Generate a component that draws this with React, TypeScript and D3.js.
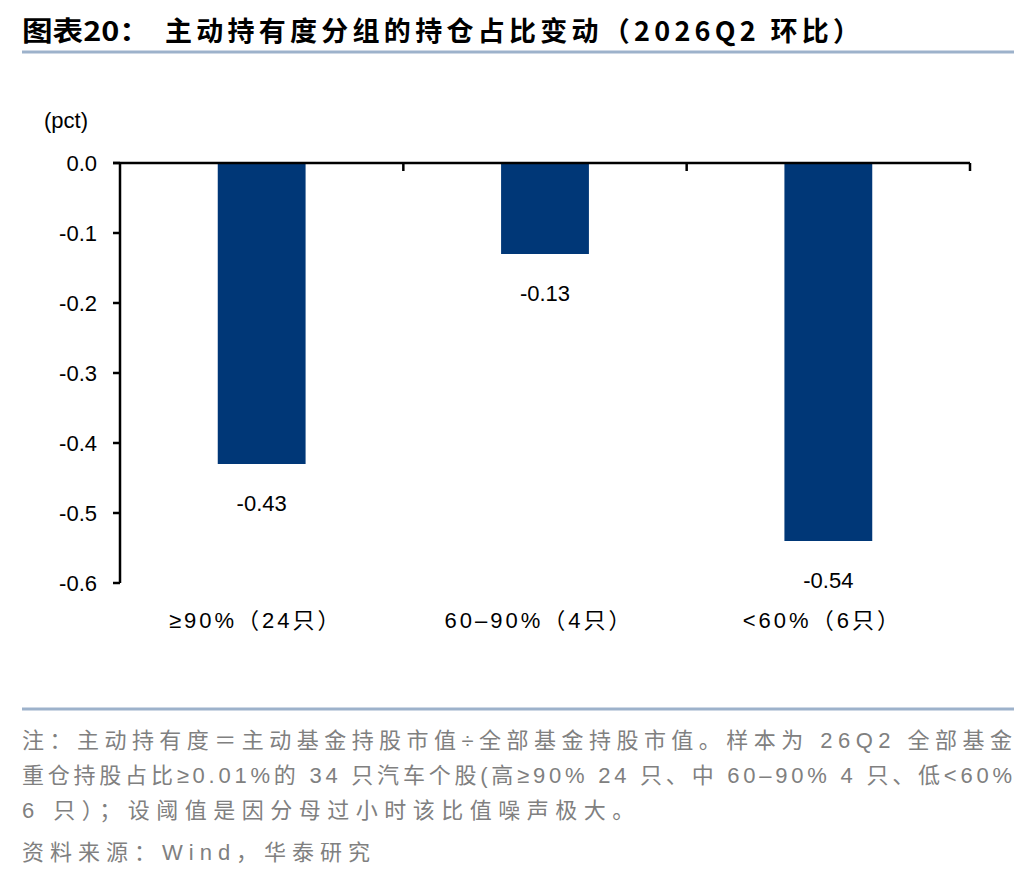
import { useEffect, useRef } from "react";
import * as d3 from "d3";

const categories = ["≥90%（24只）", "60–90%（4只）", "<60%（6只）"];
const values = [-0.43, -0.13, -0.54];
const yTicks = [0, -0.1, -0.2, -0.3, -0.4, -0.5, -0.6];

const titleHead = "图表20：";
const titleBody = "主动持有度分组的持仓占比变动（2026Q2 环比）";
const notes = [
  "注：主动持有度＝主动基金持股市值÷全部基金持股市值。样本为 26Q2 全部基金",
  "重仓持股占比≥0.01%的 34 只汽车个股(高≥90% 24 只、中 60–90% 4 只、低<60%",
  "6 只）；设阈值是因分母过小时该比值噪声极大。",
];
const source = "资料来源：Wind，华泰研究";

const App = () => {
  const ref = useRef<SVGSVGElement>(null);

  useEffect(() => {
    document.body.style.margin = "0";
    const svg = d3.select(ref.current);
    svg.selectAll("*").remove();

    const W = 1036,
      H = 880;
    const left = 120,
      right = 970,
      top = 163,
      bottom = 583;
    const sans = "'Liberation Sans', Arial, 'Noto Sans CJK SC', sans-serif";
    const cjk = "'Noto Sans CJK SC', sans-serif";

    svg.attr("width", W).attr("height", H);
    svg.append("rect").attr("width", W).attr("height", H).attr("fill", "#fff");

    // title
    svg
      .append("text")
      .attr("x", 22)
      .attr("y", 41)
      .attr("font-family", cjk)
      .attr("font-weight", "bold")
      .attr("font-size", 27)
      .attr("fill", "#000")
      .attr("textLength", 128)
      .attr("lengthAdjust", "spacingAndGlyphs")
      .text(titleHead);
    svg
      .append("text")
      .attr("x", 165)
      .attr("y", 41)
      .attr("font-family", cjk)
      .attr("font-weight", "bold")
      .attr("font-size", 27)
      .attr("fill", "#000")
      .attr("textLength", 695)
      .attr("lengthAdjust", "spacing")
      .text(titleBody);
    svg
      .append("line")
      .attr("x1", 22)
      .attr("x2", 1014)
      .attr("y1", 52)
      .attr("y2", 52)
      .attr("stroke", "#9db2cb")
      .attr("stroke-width", 3);

    const x = d3
      .scaleBand()
      .domain(categories)
      .range([left, right])
      .paddingInner(0.69)
      .paddingOuter(0.345);
    const y = d3.scaleLinear().domain([0, -0.6]).range([top, bottom]);
    const band = d3.scaleBand().domain(categories).range([left, right]);

    // bars
    svg
      .append("g")
      .selectAll("rect")
      .data(values)
      .join("rect")
      .attr("x", (_, i) => x(categories[i])!)
      .attr("width", x.bandwidth())
      .attr("y", y(0))
      .attr("height", (d) => y(d) - y(0))
      .attr("fill", "#003777");

    // value labels
    svg
      .append("g")
      .selectAll("text")
      .data(values)
      .join("text")
      .attr("x", (_, i) => x(categories[i])! + x.bandwidth() / 2)
      .attr("y", (d) => y(d) + 47)
      .attr("text-anchor", "middle")
      .attr("font-family", sans)
      .attr("font-size", 22)
      .text((d) => d.toFixed(2));

    // y axis
    const ya = svg.append("g");
    ya.append("line")
      .attr("x1", left)
      .attr("x2", left)
      .attr("y1", top)
      .attr("y2", bottom)
      .attr("stroke", "#000")
      .attr("stroke-width", 2.5);
    yTicks.forEach((t) => {
      ya.append("line")
        .attr("x1", left - 7)
        .attr("x2", left)
        .attr("y1", y(t))
        .attr("y2", y(t))
        .attr("stroke", "#000")
        .attr("stroke-width", 2.5);
      ya.append("text")
        .attr("x", 97)
        .attr("y", y(t) + 8)
        .attr("text-anchor", "end")
        .attr("font-family", sans)
        .attr("font-size", 22)
        .text(d3.format(".1f")(t).replace("−", "-"));
    });
    svg
      .append("text")
      .attr("x", 44)
      .attr("y", 128)
      .attr("font-family", sans)
      .attr("font-size", 22)
      .text("(pct)");

    // x axis at zero
    const xa = svg.append("g");
    xa.append("line")
      .attr("x1", left - 7)
      .attr("x2", right)
      .attr("y1", y(0))
      .attr("y2", y(0))
      .attr("stroke", "#000")
      .attr("stroke-width", 2.5);
    categories.forEach((c) => {
      const xe = band(c)! + band.bandwidth();
      xa.append("line")
        .attr("x1", xe)
        .attr("x2", xe)
        .attr("y1", y(0))
        .attr("y2", y(0) + 8)
        .attr("stroke", "#000")
        .attr("stroke-width", 2.5);
      xa.append("text")
        .attr("x", band(c)! + band.bandwidth() / 2 - 6)
        .attr("y", 628)
        .attr("text-anchor", "middle")
        .attr("font-family", sans)
        .attr("font-size", 22)
        .attr("letter-spacing", 3)
        .text(c);
    });

    // footer
    svg
      .append("line")
      .attr("x1", 22)
      .attr("x2", 1014)
      .attr("y1", 709)
      .attr("y2", 709)
      .attr("stroke", "#9db2cb")
      .attr("stroke-width", 3);
    const noteY = [748, 783, 818];
    notes.forEach((n, i) => {
      const t = svg
        .append("text")
        .attr("x", 22)
        .attr("y", noteY[i])
        .attr("font-family", sans)
        .attr("font-size", 22)
        .attr("fill", "#808080")
        .text(n);
      if (i < 2) t.attr("textLength", 990).attr("lengthAdjust", "spacing");
      else t.attr("letter-spacing", 6.5);
    });
    svg
      .append("text")
      .attr("x", 22)
      .attr("y", 860)
      .attr("font-family", sans)
      .attr("font-size", 22)
      .attr("fill", "#808080")
      .attr("letter-spacing", 6)
      .text(source);
  }, []);

  return <svg ref={ref} />;
};

export default App;
